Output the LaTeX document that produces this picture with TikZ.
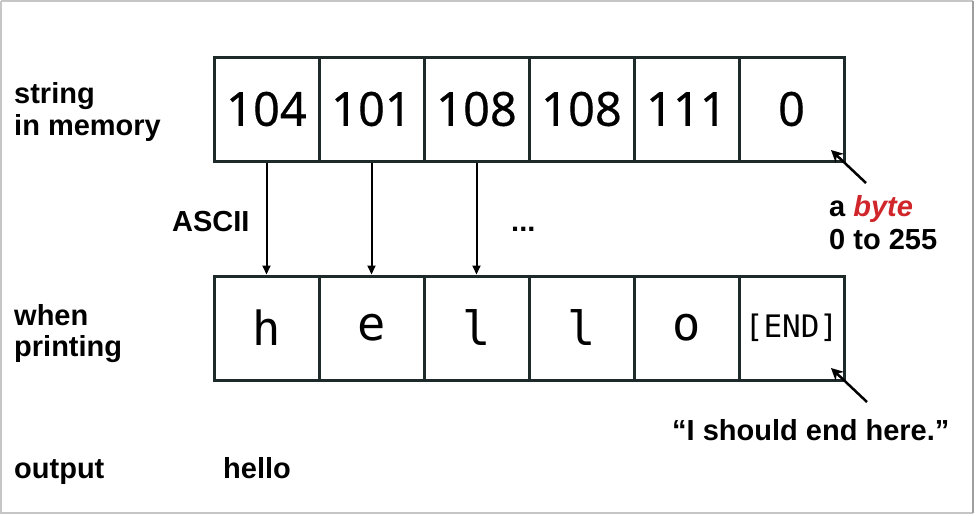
\documentclass[tikz,border=0pt]{standalone}
\usepackage{fontspec}
\setmainfont{Liberation Sans}
\newfontfamily\numfont[FakeBold=0.4]{Noto Sans}
\newfontfamily\monofont{DejaVu Sans Mono}
\usetikzlibrary{arrows.meta}
\definecolor{boxline}{HTML}{1E2A2A}
\definecolor{bytered}{HTML}{D0262B}
\tikzset{
  cell/.style={draw=boxline, line width=3pt, minimum width=105pt, minimum height=104pt, inner sep=0pt, anchor=center},
  numcell/.style={cell, font=\numfont\fontsize{47}{50}\selectfont},
  chrcell/.style={cell, font=\monofont\fontsize{47}{50}\selectfont},
  lbl/.style={anchor=base west, inner sep=0pt, font=\bfseries\fontsize{29}{32}\selectfont},
  conv/.style={line width=2pt, -{Triangle[width=8pt,length=9pt]}},
  point/.style={line width=2.5pt, -{Stealth[width=12pt,length=12pt]}}
}
\begin{document}
\begin{tikzpicture}[x=1pt,y=-1pt]
\useasboundingbox (0,0) rectangle (977,515);
\fill[white] (0,0) rectangle (977,515);
\draw[gray!45, line width=2pt] (1,1) -- (973,1);
\draw[gray!45, line width=2pt] (1,1) -- (1,513) -- (973,513);
\draw[gray!75, line width=2pt] (973,1) -- (973,513);

% top row
\node[numcell] (m1) at (266.5,109) {104};
\node[numcell] (m2) at (371.5,109) {101};
\node[numcell] (m3) at (476.5,109) {108};
\node[numcell] (m4) at (581.5,109) {108};
\node[numcell] (m5) at (686.5,109) {111};
\node[numcell] (m6) at (791.5,109) {0};

% bottom row
\node[chrcell] (p1) at (266.5,328) {h};
\node[chrcell] (p2) at (371.5,328) {e};
\node[chrcell] (p3) at (476.5,328) {l};
\node[chrcell] (p4) at (581.5,328) {l};
\node[chrcell] (p5) at (686.5,328) {o};
\node[cell, font=\monofont\fontsize{31}{34}\selectfont] (p6) at (791.5,328) {[END]};

% conversion arrows
\draw[conv] (m1.south) -- (p1.north);
\draw[conv] (m2.south) -- (p2.north);
\draw[conv] (m3.south) -- (p3.north);

% labels
\node[lbl] (s1) at (14,103) {string};
\node[lbl] (s2) at (14,135) {in memory};
\node[lbl] (w1) at (14,325) {when};
\node[lbl] (w2) at (14,356) {printing};
\node[lbl] (o1) at (14,478) {output};
\node[lbl] (o2) at (223,478) {hello};
\node[lbl] (ascii) at (172,231) {ASCII};
\node[lbl] (dots) at (511,231) {...};
\node[lbl] (b1) at (829,216) {a \textcolor{bytered}{\itshape byte}};
\node[lbl] (b2) at (829,249) {0 to 255};
\node[lbl] (q) at (672,440) {“I should end here.”};

% pointer arrows
\coordinate (t1) at (866,183);
\coordinate (h1) at (831,150);
\coordinate (t2) at (867,402);
\coordinate (h2) at (831,368);
\draw[point] (t1) -- (h1);
\draw[point] (t2) -- (h2);
\end{tikzpicture}
\end{document}
